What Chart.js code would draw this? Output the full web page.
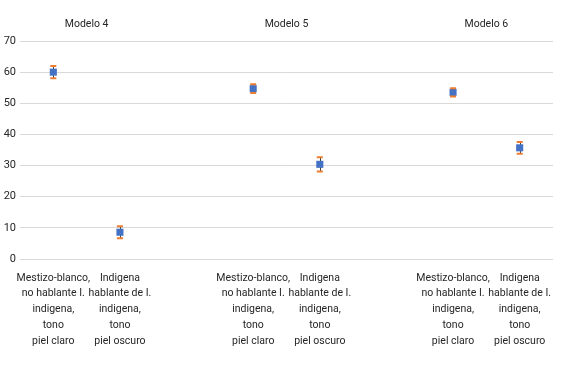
<!DOCTYPE html>
<html><head><meta charset="utf-8">
<script src="https://cdn.jsdelivr.net/npm/chart.js@4.4.0/dist/chart.umd.min.js"></script>
<style>html,body{margin:0;padding:0;background:#fff}#wrap{width:567px;height:375px;position:relative}</style>
</head><body><div id="wrap"><canvas id="c"></canvas></div>
<script>
// ---- data ----
const models = ['Modelo 4', 'Modelo 5', 'Modelo 6'];
const groupLabels = [
  ['Mestizo-blanco,', 'no hablante I.', 'indigena,', 'tono', 'piel claro'],
  ['Indigena', 'hablante de I.', 'indigena,', 'tono', 'piel oscuro']
];
const claroValues  = [60.0, 54.7, 53.5];
const oscuroValues = [8.6, 30.4, 35.7];
const claroErrors  = [2.0, 1.4, 1.3];
const oscuroErrors = [1.9, 2.3, 1.9];
const yTicks = { min: 0, max: 70, step: 10 };

// ---- build category slots (two per model, one empty gap between models) ----
const labels = [], values = [], errors = [];
models.forEach((m, i) => {
  if (i > 0) { labels.push(''); values.push(null); errors.push(null); }
  labels.push(groupLabels[0]); values.push(claroValues[i]); errors.push(claroErrors[i]);
  labels.push(groupLabels[1]); values.push(oscuroValues[i]); errors.push(oscuroErrors[i]);
});
const topLabels = [''];
models.forEach((m, i) => { if (i > 0) topLabels.push('', ''); topLabels.push(m); });
topLabels.push('');

const FONT = { family: 'Roboto, "Liberation Sans", sans-serif', size: 10.5 };
const TEXT = '#262626';
const GRID = '#d9d9d9';

function eachBar(chart, fn) {
  const xs = chart.scales.x, ys = chart.scales.y;
  values.forEach((v, i) => {
    if (v == null) return;
    fn(xs.getPixelForValue(i), ys.getPixelForValue(v + errors[i]), ys.getPixelForValue(v - errors[i]));
  });
}
const errorBars = {
  id: 'errorBars',
  beforeDatasetsDraw(chart) {
    const ctx = chart.ctx;
    ctx.save();
    ctx.strokeStyle = '#404040'; ctx.lineWidth = 1;
    eachBar(chart, (x, yHi, yLo) => {
      ctx.beginPath(); ctx.moveTo(Math.round(x) + 0.5, yHi); ctx.lineTo(Math.round(x) + 0.5, yLo); ctx.stroke();
    });
    ctx.restore();
  },
  afterDatasetsDraw(chart) {
    const ctx = chart.ctx;
    ctx.save();
    ctx.strokeStyle = '#ED7D31'; ctx.lineWidth = 2;
    eachBar(chart, (x, yHi, yLo) => {
      ctx.beginPath();
      ctx.moveTo(x - 3, yHi); ctx.lineTo(x + 3, yHi);
      ctx.moveTo(x - 3, yLo); ctx.lineTo(x + 3, yLo);
      ctx.stroke();
    });
    ctx.restore();
  }
};

new Chart(document.getElementById('c'), {
  type: 'line',
  data: {
    labels: labels,
    datasets: [{
      data: values,
      showLine: false,
      pointStyle: 'rect',
      pointRadius: 5,
      pointHoverRadius: 5,
      pointBackgroundColor: '#4472C4',
      pointBorderColor: '#4472C4',
      pointBorderWidth: 0
    }]
  },
  options: {
    responsive: true,
    maintainAspectRatio: false,
    animation: false,
    events: [],
    layout: { padding: { left: 0, right: 14, top: 0, bottom: 0 } },
    plugins: { legend: { display: false }, tooltip: { enabled: false } },
    scales: {
      x: {
        type: 'category',
        position: 'bottom',
        offset: true,
        grid: { display: false },
        border: { display: false },
        ticks: {
          autoSkip: false, maxRotation: 0, minRotation: 0,
          color: TEXT, font: { ...FONT, lineHeight: 1.5 }, padding: 3
        },
        afterFit(s) { s.height = 116; }
      },
      xTop: {
        type: 'category',
        position: 'top',
        labels: topLabels,
        offset: false,
        grid: { display: false, drawTicks: false },
        border: { display: false },
        ticks: { autoSkip: false, maxRotation: 0, minRotation: 0, color: TEXT, font: FONT, padding: 10 },
        afterFit(s) { s.height = 41; }
      },
      y: {
        min: yTicks.min, max: yTicks.max,
        grid: { color: GRID, lineWidth: 1, drawTicks: false },
        border: { display: false },
        ticks: { stepSize: yTicks.step, color: TEXT, font: { ...FONT, size: 11 }, padding: 4 },
        afterFit(s) { s.width = 20; }
      }
    }
  },
  plugins: [errorBars]
});
</script>
</body></html>
